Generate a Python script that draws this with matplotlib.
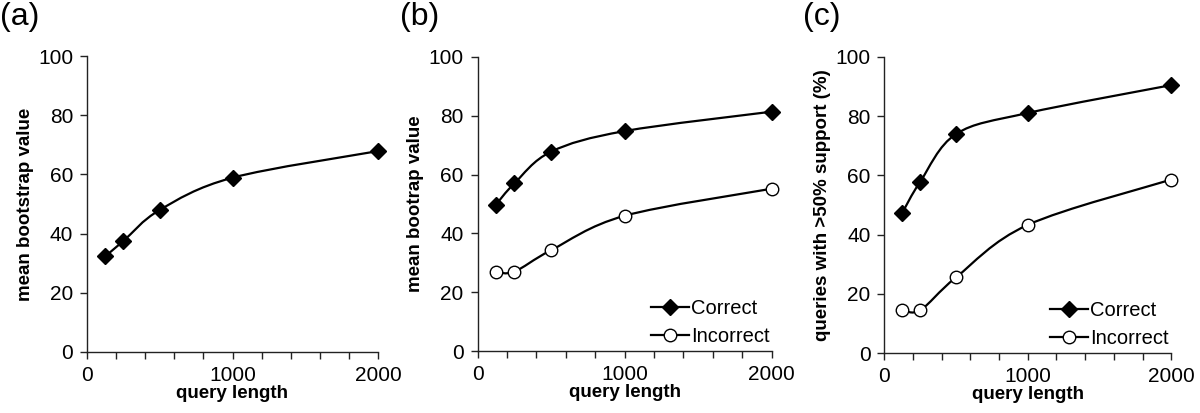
import numpy as np
import matplotlib.pyplot as plt
from matplotlib.path import Path
from matplotlib.patches import PathPatch
from matplotlib.lines import Line2D

plt.rcParams['font.family'] = ['Liberation Sans', 'DejaVu Sans']

# datos
query_length = [125, 250, 500, 1000, 2000]
boot_all = [32.3, 37.5, 48.0, 58.9, 67.9]
boot_correct = [49.8, 57.0, 67.8, 74.8, 81.4]
boot_incorrect = [26.9, 27.0, 34.3, 46.0, 55.2]
sup_correct = [47.4, 57.9, 74.0, 81.1, 90.5]
sup_incorrect = [14.6, 14.5, 25.6, 43.3, 58.6]

panel_labels = ['(a)', '(b)', '(c)']
ylabels = ['mean bootstrap value', 'mean bootrap value',
           'queries with >50% support (%)']
series_names = ['Correct', 'Incorrect']


# curva suave tipo Excel (bezier con tension 1/6)
def curva_suave(ax, xs, ys):
    pts = np.column_stack([xs, ys]).astype(float)
    n = len(pts)
    verts = [pts[0]]
    codes = [Path.MOVETO]
    for i in range(n - 1):
        p_prev = pts[i - 1] if i > 0 else pts[i]
        p_next2 = pts[i + 2] if i + 2 < n else pts[i + 1]
        c1 = pts[i] + (pts[i + 1] - p_prev) / 6
        c2 = pts[i + 1] - (p_next2 - pts[i]) / 6
        verts += [c1, c2, pts[i + 1]]
        codes += [Path.CURVE4] * 3
    patch = PathPatch(Path(verts, codes), facecolor='none', edgecolor='black',
                      lw=1.6, zorder=2, clip_on=False)
    ax.add_patch(patch)


def serie(ax, xs, ys, lleno):
    curva_suave(ax, xs, ys)
    if lleno:
        ax.plot(xs, ys, ls='none', marker='D', ms=8, mfc='black',
                mec='black', zorder=3, clip_on=False)
    else:
        ax.plot(xs, ys, ls='none', marker='o', ms=9, mfc='white',
                mec='black', mew=1.0, zorder=3, clip_on=False)


fig = plt.figure(figsize=(12, 4.13), dpi=100)
posiciones = [
    [0.0725, 0.148, 0.2425, 0.716],
    [0.398, 0.150, 0.245, 0.712],
    [0.737, 0.145, 0.239, 0.717],
]
axes = [fig.add_axes(p) for p in posiciones]

serie(axes[0], query_length, boot_all, True)
serie(axes[1], query_length, boot_correct, True)
serie(axes[1], query_length, boot_incorrect, False)
serie(axes[2], query_length, sup_correct, True)
serie(axes[2], query_length, sup_incorrect, False)

for ax, lab, yl in zip(axes, panel_labels, ylabels):
    ax.set_xlim(0, 2000)
    ax.set_ylim(0, 100)
    ax.set_xticks(np.arange(0, 2001, 200))
    ax.set_xticklabels(['0' if t == 0 else (str(t) if t % 1000 == 0 else '')
                        for t in range(0, 2001, 200)])
    ax.set_yticks(np.arange(0, 101, 20))
    for s in ['top', 'right']:
        ax.spines[s].set_visible(False)
    for s in ['left', 'bottom']:
        ax.spines[s].set_color('#222222')
        ax.spines[s].set_linewidth(1.0)
    ax.tick_params(direction='out', length=5, width=1.0, color='#222222',
                   labelsize=15, pad=5)
    ax.set_xlabel('query length', fontsize=13.5, fontweight='bold', labelpad=0)
    ax.set_ylabel(yl, fontsize=13.5, fontweight='bold', labelpad=3)

# etiquetas de los paneles
for x, lab in zip([0.0, 0.333, 0.669], panel_labels):
    fig.text(x, 0.995, lab, fontsize=23, va='top', ha='left')

# leyendas
handles = [
    Line2D([], [], color='black', lw=1.6, marker='D', ms=8, mfc='black'),
    Line2D([], [], color='black', lw=1.6, marker='o', ms=9, mfc='white',
           mew=1.0),
]
for ax in axes[1:]:
    ax.legend(handles, series_names, loc='lower right', frameon=False,
              fontsize=14.5, handlelength=1.9, handletextpad=0.1,
              labelspacing=0.45, borderaxespad=0.0,
              bbox_to_anchor=(1.02, -0.01))

fig.savefig('out.png', dpi=100)
